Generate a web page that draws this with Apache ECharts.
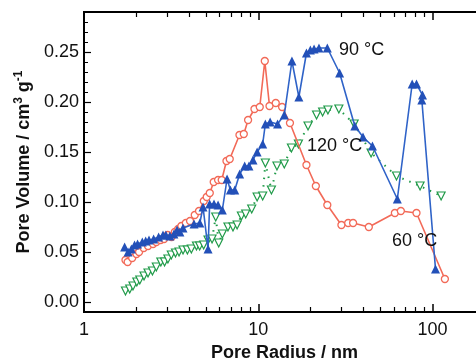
<!DOCTYPE html>
<html>
<head>
<meta charset="utf-8">
<script src="https://cdn.jsdelivr.net/npm/echarts@6/dist/echarts.min.js"></script>
<style>html,body{margin:0;padding:0;background:#fff}#c{width:476px;height:358px}</style>
</head>
<body>
<div id="c"></div>
<script>
// 60 °C
const r60 = [1.73,1.78,1.89,2.00,2.07,2.20,2.33,2.49,2.60,2.75,2.88,3.02,3.18,3.32,3.47,3.62,3.84,4.06,4.32,4.57,4.87,5.06,5.27,5.55,5.88,6.17,6.57,6.86,7.80,8.26,8.74,9.51,10.2,10.9,11.6,12.6,13.7,15.2,18.9,21.4,24.9,30.0,32.8,35.0,43.1,60.8,65.8,80.9,117.7];
const v60 = [0.042,0.040,0.044,0.048,0.050,0.054,0.056,0.058,0.060,0.062,0.063,0.067,0.065,0.070,0.073,0.076,0.079,0.081,0.087,0.091,0.101,0.105,0.109,0.120,0.122,0.122,0.141,0.143,0.167,0.168,0.182,0.193,0.195,0.241,0.196,0.199,0.195,0.179,0.137,0.116,0.097,0.077,0.079,0.079,0.075,0.089,0.091,0.089,0.023];
// 90 °C
const r90 = [1.71,1.79,1.87,1.95,2.03,2.16,2.26,2.36,2.51,2.68,2.84,2.95,3.11,3.28,3.42,3.55,3.70,4.28,4.62,4.82,5.15,5.26,5.57,5.88,6.22,6.62,6.92,7.33,7.82,8.36,8.84,9.33,9.85,10.6,10.98,11.7,12.9,14.1,15.6,17.1,18.9,19.9,20.9,22.3,24.9,29.3,35.8,39.9,45.2,62.8,76.4,80.9,87.6,86.8,104];
const v90 = [0.055,0.050,0.053,0.057,0.058,0.060,0.061,0.062,0.063,0.065,0.067,0.067,0.066,0.068,0.072,0.070,0.074,0.078,0.079,0.095,0.053,0.098,0.098,0.097,0.092,0.123,0.112,0.112,0.128,0.136,0.136,0.142,0.150,0.158,0.178,0.180,0.178,0.187,0.241,0.205,0.249,0.252,0.253,0.254,0.254,0.229,0.176,0.165,0.156,0.103,0.218,0.218,0.207,0.202,0.033];
// 120 °C
const r120 = [1.73,1.83,1.91,2.01,2.09,2.21,2.33,2.47,2.60,2.76,2.90,3.03,3.17,3.35,3.51,3.70,3.92,4.13,4.42,4.61,4.86,5.15,5.43,5.70,5.93,6.22,6.70,7.16,7.56,8.00,8.47,9.17,9.85,10.6,10.98,11.9,12.8,14.1,15.5,17.0,19.3,21.6,23.4,25.1,29.0,35.5,44.4,62.1,84.8,112];
const v120 = [0.011,0.013,0.016,0.020,0.022,0.026,0.029,0.031,0.035,0.040,0.040,0.043,0.047,0.049,0.050,0.052,0.052,0.053,0.056,0.056,0.057,0.062,0.063,0.085,0.059,0.068,0.075,0.075,0.077,0.086,0.088,0.093,0.105,0.106,0.139,0.112,0.136,0.138,0.154,0.158,0.176,0.187,0.190,0.192,0.193,0.178,0.149,0.126,0.116,0.106];

const xMajorTicks = [1, 10, 100];
const xMinorTicks = [2,3,4,5,6,7,8,9,20,30,40,50,60,70,80,90,200];
const yMajorTicks = [0, 0.05, 0.10, 0.15, 0.20, 0.25];
const X_MIN = 1, X_MAX = 200;

const FONT = 'Arial, "Liberation Sans", Helvetica, sans-serif';
const chart = echarts.init(document.getElementById('c'), null, {renderer: 'canvas'});

const pair = (xs, ys) => xs.map((x, i) => [x, ys[i]]);
const lg = v => Math.log10(v);

// tick-only axes in log10 space (same grid width, so positions match the log axis)
const tickAxis = (pos, vals, len, w, lineCol) => ({
  type: 'value', position: pos, min: lg(X_MIN), max: lg(X_MAX),
  splitLine: {show: false},
  axisLine: {show: true, onZero: false, lineStyle: {color: lineCol, width: 2}},
  axisTick: {show: true, inside: true, length: len, lineStyle: {color: '#000', width: w}, customValues: vals.map(lg)},
  axisLabel: {show: false}
});

chart.setOption({
  animation: false,
  backgroundColor: '#fff',
  grid: {left: 84, top: 12, width: 401, height: 300, outerBoundsMode: 'none', containLabel: false, show: true, borderColor: '#000', borderWidth: 2, backgroundColor: 'transparent'},
  xAxis: [
    {
      type: 'log', logBase: 10, min: X_MIN, max: X_MAX, position: 'bottom',
      splitLine: {show: false},
      axisLine: {onZero: false, lineStyle: {color: '#000', width: 2}},
      axisTick: {show: true, inside: true, length: 8, lineStyle: {color: '#000', width: 1.5}},
      axisLabel: {customValues: xMajorTicks, color: '#111', fontSize: 18, fontFamily: FONT, margin: 9, formatter: v => String(Math.round(v))},
      name: 'Pore Radius / nm', nameLocation: 'middle', nameGap: 29,
      nameTextStyle: {color: '#111', fontSize: 18, fontWeight: 'bold', fontFamily: FONT}
    },
    tickAxis('top', xMajorTicks, 8, 1.5, '#000'),
    tickAxis('top', xMinorTicks, 5, 1.2, 'rgba(0,0,0,0)'),
    tickAxis('bottom', xMinorTicks, 5, 1.2, 'rgba(0,0,0,0)')
  ],
  yAxis: [
    {
      type: 'value', min: -0.01, max: 0.29, position: 'left',
      splitLine: {show: false},
      axisLine: {show: true, onZero: false, lineStyle: {color: '#000', width: 2}},
      axisTick: {show: true, inside: true, length: 7, lineStyle: {color: '#000', width: 1.2}, customValues: yMajorTicks},
      axisLabel: {customValues: yMajorTicks, color: '#111', fontSize: 18, fontFamily: FONT, margin: 5, formatter: v => v.toFixed(2)},
      name: '{b|Pore Volume / cm}{s|3}{b| g}{s|-1}', nameLocation: 'middle', nameGap: 48,
      nameTextStyle: {
        color: '#111', fontFamily: FONT,
        rich: {
          b: {fontSize: 18, fontWeight: 'bold', fontFamily: FONT, color: '#111', lineHeight: 22},
          s: {fontSize: 12, fontWeight: 'bold', fontFamily: FONT, color: '#111', lineHeight: 12, verticalAlign: 'top'}
        }
      }
    },
    {
      type: 'value', min: -0.01, max: 0.29, interval: 0.01, position: 'left',
      splitLine: {show: false},
      axisLine: {show: true, onZero: false, lineStyle: {color: 'rgba(0,0,0,0)'}},
      axisTick: {show: true, inside: true, length: 4, lineStyle: {color: '#000', width: 1}},
      axisLabel: {show: false}
    }
  ],
  series: [
    {
      type: 'line', name: '120 °C', data: pair(r120, v120), xAxisIndex: 0, yAxisIndex: 0,
      symbol: 'path://M0,0L10,0L5,9Z', symbolSize: 8,
      itemStyle: {color: '#fff', borderColor: '#1f9a48', borderWidth: 1.2},
      lineStyle: {color: '#1f9a48', width: 2, type: [1.5, 6]},
      z: 2
    },
    {
      type: 'line', name: '60 °C', data: pair(r60, v60), xAxisIndex: 0, yAxisIndex: 0,
      symbol: 'circle', symbolSize: 7,
      itemStyle: {color: '#fff', borderColor: '#f26a58', borderWidth: 1.3},
      lineStyle: {color: '#f26a58', width: 1.6},
      z: 3
    },
    {
      type: 'line', name: '90 °C', data: pair(r90, v90), xAxisIndex: 0, yAxisIndex: 0,
      symbol: 'triangle', symbolSize: 9,
      itemStyle: {color: '#2350b8', borderColor: '#2350b8', borderWidth: 0},
      lineStyle: {color: '#2f63c8', width: 1.6},
      z: 4
    }
  ],
  graphic: [
    {type: 'text', left: 339, top: 41, z: 10, style: {text: '90 °C', fontSize: 18, fontFamily: FONT, fill: '#111'}},
    {type: 'text', left: 307, top: 137, z: 10, style: {text: '120 °C', fontSize: 18, fontFamily: FONT, fill: '#111'}},
    {type: 'text', left: 392, top: 232, z: 10, style: {text: '60 °C', fontSize: 18, fontFamily: FONT, fill: '#111'}}
  ]
});
</script>
</body>
</html>
